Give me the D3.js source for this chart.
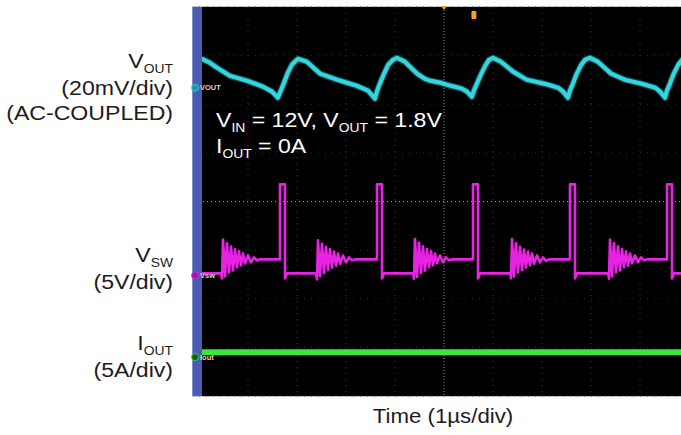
<!DOCTYPE html>
<html><head><meta charset="utf-8">
<script src="https://cdn.jsdelivr.net/npm/d3@7"></script>
<style>html,body{margin:0;padding:0;background:#fff;} svg{display:block;font-family:"Liberation Sans",Arial,Helvetica,sans-serif;}</style>
</head><body><svg id="c" width="681" height="435"></svg>
<script>
// ---- data (time in µs, centre of screen = 0) ----
const xDivs = [-5,-4,-3,-2,-1,0,1,2,3,4,5];
const yDivs = [-4,-3,-2,-1,0,1,2,3,4];

// VOUT, AC-coupled, mV
const voutT = [-4.94,-4.78,-4.63,-4.37,-4.02,-3.69,-3.51,-3.39,-3.33,-3.27,-3.19,-3.10,-2.98,-2.80,-2.53,-2.18,-1.78,-1.55,-1.41,-1.37,-1.31,-1.23,-1.14,-1.04,-0.96,-0.80,-0.55,-0.39,-0.29,-0.08,0.06,0.22,0.37,0.47,0.57,0.61,0.67,0.76,0.84,0.92,1.00,1.16,1.41,1.69,2.06,2.33,2.43,2.53,2.57,2.63,2.71,2.80,2.88,2.98,3.14,3.41,3.69,4.04,4.31,4.41,4.51,4.55,4.61,4.69,4.78,4.86,4.94];
const voutV = [11.9,10.3,8.2,4.9,2.9,0.4,-1.6,-4.1,-1.2,1.8,6.0,9.6,11.9,10.7,5.8,3.3,0.8,-1.2,-4.5,-1.6,1.6,5.5,9.4,11.5,12.3,10.7,5.8,3.7,2.9,2.1,1.2,0.4,-0.4,-1.6,-3.7,-1.2,1.6,5.7,9.0,11.5,12.3,10.7,6.6,3.3,1.6,0,-1.6,-4.1,-1.2,1.6,5.8,9.4,11.5,12.3,10.7,5.8,3.3,1.6,0,-1.6,-4.1,-1.2,1.6,5.8,9.4,11.5,12.1];

// VSW, V
const vswT = [-4.94,-4.55,
 -4.531,-4.510,-4.469,-4.429,-4.388,-4.347,-4.306,-4.265,-4.224,-4.184,-4.143,-4.102,-4.061,-4.000,-3.939,-3.878,-3.816,-3.755,
 -3.347,-3.347,-3.245,-3.245,-3.204,-2.61,
 -2.592,-2.571,-2.531,-2.490,-2.449,-2.408,-2.367,-2.327,-2.286,-2.245,-2.204,-2.163,-2.122,-2.061,-2.000,-1.939,-1.878,-1.816,
 -1.367,-1.367,-1.265,-1.265,-1.224,-0.63,
 -0.612,-0.592,-0.551,-0.510,-0.469,-0.429,-0.388,-0.347,-0.306,-0.265,-0.224,-0.184,-0.143,-0.082,-0.020,0.041,0.102,0.163,
 0.592,0.592,0.694,0.694,0.735,1.35,
 1.367,1.388,1.429,1.469,1.510,1.551,1.592,1.633,1.673,1.714,1.755,1.796,1.837,1.898,1.959,2.020,2.082,2.143,
 2.571,2.571,2.673,2.673,2.714,3.35,
 3.367,3.388,3.429,3.469,3.510,3.551,3.592,3.633,3.673,3.714,3.755,3.796,3.837,3.898,3.959,4.020,4.082,4.143,
 4.551,4.551,4.653,4.653,4.694,4.94];
const vswV = [0.21,0.21,
 -0.31,3.70,-0.10,3.29,0.31,2.98,0.51,2.68,0.82,2.47,1.03,2.26,1.23,2.06,1.34,1.85,1.54,1.65,
 1.65,9.36,9.36,-0.31,0.21,0.21,
 -0.41,3.60,-0.05,3.25,0.26,2.95,0.55,2.70,0.80,2.45,1.00,2.25,1.20,2.05,1.35,1.85,1.55,1.65,
 1.65,9.36,9.36,-0.31,0.21,0.21,
 -0.35,3.75,-0.15,3.35,0.25,3.00,0.50,2.70,0.85,2.50,1.05,2.25,1.25,2.05,1.35,1.85,1.55,1.65,
 1.65,9.36,9.36,-0.31,0.21,0.21,
 -0.30,3.75,-0.10,3.30,0.30,2.95,0.55,2.65,0.80,2.45,1.05,2.25,1.20,2.05,1.35,1.85,1.50,1.65,
 1.65,9.36,9.36,-0.31,0.21,0.21,
 -0.35,3.70,-0.10,3.30,0.30,3.00,0.50,2.70,0.85,2.45,1.00,2.25,1.25,2.05,1.35,1.85,1.55,1.65,
 1.65,9.36,9.36,-0.31,0.21,0.21];

// IOUT, A
const ioutT = [-4.94,-2.5,0,2.5,4.94];
const ioutV = [0.5,0.5,0.5,0.5,0.5];

// channel settings: name, scale per div, position (div), colour
const chNames = ["VOUT","Vsw","Iout"];
const chScale = [20,5,5];
const chPos = [2.34,-1.52,-3.2];
const chColor = ["#33d6de","#e824e4","#3ae83a"];

// ---- drawing ----
const svg = d3.select("#c");
const x = d3.scaleLinear().domain([-5,5]).range([199,689]);
const yd = d3.scaleLinear().domain([-4,4]).range([396,7]);

svg.append("rect").attr("x",192).attr("y",6).attr("width",489).attr("height",391).attr("fill","#c8c8c8");
svg.append("rect").attr("x",192).attr("y",7).attr("width",489).attr("height",389).attr("fill","#000");

svg.append("clipPath").attr("id","scr").append("rect")
  .attr("x",202).attr("y",7).attr("width",479).attr("height",389);

const grid = svg.append("g");
grid.selectAll(".gx").data(xDivs).join("line")
  .attr("x1",d=>x(d)).attr("x2",d=>x(d)).attr("y1",yd(4)).attr("y2",yd(-4))
  .attr("stroke",d=>d===0?"#9a9a9a":"#3c3c3c").attr("stroke-width",1)
  .attr("stroke-dasharray",d=>d===0?"1,2":"1,5");
grid.selectAll(".gy").data(yDivs).join("line")
  .attr("y1",d=>yd(d)).attr("y2",d=>yd(d)).attr("x1",x(-5)).attr("x2",x(5))
  .attr("stroke",d=>d===0?"#9a9a9a":"#333").attr("stroke-width",1)
  .attr("stroke-dasharray",d=>d===0?"1,3":"1,6");

function chY(i){ return v => yd(chPos[i] + v/chScale[i]); }
const traces = svg.append("g").attr("clip-path","url(#scr)");
const series = [d3.zip(voutT,voutV), d3.zip(vswT,vswV), d3.zip(ioutT,ioutV)];
const widths = [4.2,2.6,6];
series.forEach((s,i)=>{
  const fy = chY(i);
  const ln = d3.line().x(d=>x(d[0])).y(d=>fy(d[1]));
  if(i===0){
    traces.append("path").datum(s).attr("d",ln).attr("fill","none")
      .attr("stroke",chColor[i]).attr("stroke-opacity",0.35).attr("stroke-width",6.5)
      .attr("stroke-linejoin","round");
  }
  traces.append("path").datum(s)
    .attr("d", ln)
    .attr("fill","none").attr("stroke",chColor[i]).attr("stroke-width",widths[i])
    .attr("stroke-linejoin","round").attr("stroke-linecap","round");
});

// blue side strip
svg.append("rect").attr("x",192).attr("y",7).attr("width",10).attr("height",389).attr("fill","#4a5cb0");
svg.append("line").attr("x1",192.5).attr("x2",192.5).attr("y1",7).attr("y2",396).attr("stroke","#7d8ed0");

// channel markers
chNames.forEach((n,i)=>{
  const yy = yd(chPos[i]);
  svg.append("circle").attr("cx",195).attr("cy",yy).attr("r",3.5)
    .attr("fill",i===2?"#1a5a1a":d3.color(chColor[i]).darker(1)).attr("stroke",chColor[i]).attr("stroke-width",0.8);
  svg.append("text").attr("x",200).attr("y",yy+2.5).attr("font-size",7.5).attr("font-weight","bold")
    .attr("fill","#d8d8d8").text(n);
});

// trigger markers
svg.append("path").attr("d",`M${x(0)-3},6 L${x(0)+3},6 L${x(0)},10 Z`).attr("fill","#f0a020");
svg.append("rect").attr("x",x(0.6)-2).attr("y",11).attr("width",5).attr("height",8).attr("rx",1).attr("fill","#f0a030");

// labels (the reference type is slightly stretched horizontally)
function label(xp, yb, parts, size, color, anchor, sx){
  const t = svg.append("text").attr("transform",`translate(${xp},${yb}) scale(${sx},1)`)
    .attr("font-size",size).attr("fill",color).attr("text-anchor",anchor);
  let low = false;
  parts.forEach(p=>{
    const sub = p[1];
    const ts = t.append("tspan").text(p[0]);
    if(sub && !low){ ts.attr("font-size",size*0.6).attr("dy",size*0.26); low = true; }
    else if(!sub && low){ ts.attr("dy",-size*0.26); low = false; }
  });
  return t;
}
const lc = "#1c1c1c";
const S = 1.1;
label(173,68,[["V"],["OUT",1]],21,lc,"end",S);
label(173,95,[["(20mV/div)"]],21,lc,"end",S);
label(173,120,[["(AC-COUPLED)"]],21,lc,"end",S);
label(173,262,[["V"],["SW",1]],21,lc,"end",S);
label(173,289,[["(5V/div)"]],21,lc,"end",S);
label(173,350,[["I"],["OUT",1]],21,lc,"end",S);
label(173,377,[["(5A/div)"]],21,lc,"end",S);

// annotation
label(216,127,[["V"],["IN",1],[" = 12V, V"],["OUT",1],[" = 1.8V"]],21,"#fff","start",S);
label(216,153,[["I"],["OUT",1],[" = 0A"]],21,"#fff","start",S);

label(443,423,[["Time (1µs/div)"]],21,lc,"middle",1.06);
</script></body></html>
